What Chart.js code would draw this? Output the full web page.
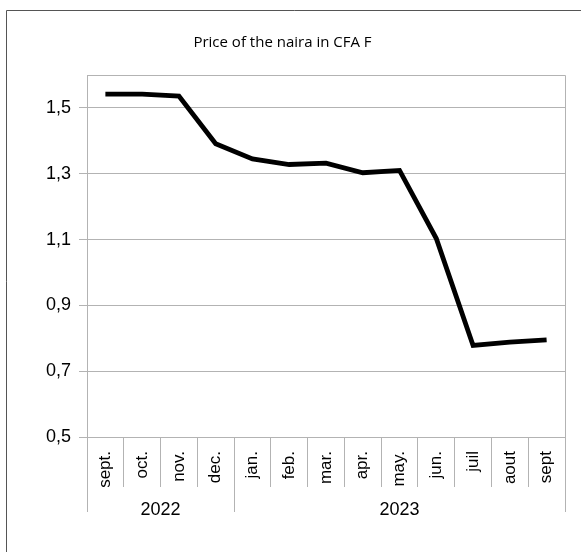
<!DOCTYPE html>
<html><head><meta charset="utf-8">
<script src="https://cdn.jsdelivr.net/npm/chart.js@4/dist/chart.umd.min.js"></script>
<style>html,body{margin:0;padding:0;background:#fff;}</style>
</head><body>
<canvas id="c" width="581" height="552"></canvas>
<script>
const titleText = 'Price of the naira in CFA F';
const months = ['sept.','oct.','nov.','dec.','jan.','feb.','mar.','apr.','may.','jun.','juil','aout','sept'];
const prices = [1.542,1.542,1.536,1.391,1.345,1.328,1.332,1.303,1.310,1.103,0.778,0.788,0.795];
const years = ['2022','2023'];
const yearMonthCounts = [4,9];
const yTicks = [0.5,0.7,0.9,1.1,1.3,1.5];
const yMin = 0.5, yMax = 1.6;

const GRID = '#b3b3b3';
const FONT = 'Liberation Sans, Arial, sans-serif';
const TICK_SIZE = 18;
const MONTH_SIZE = 17;

// year group boundaries / centres in category-index units
const yearBounds = [-0.5];
const yearCentres = [];
{ let s = 0; yearMonthCounts.forEach(n => { yearCentres.push(s + (n - 1) / 2); s += n; yearBounds.push(s - 0.5); }); }

const framePlugin = {
  id: 'frame',
  beforeDraw(chart) {
    const ctx = chart.ctx;
    ctx.save();
    ctx.strokeStyle = '#555';
    ctx.lineWidth = 1;
    ctx.beginPath();
    ctx.moveTo(6.5, chart.height + 5);
    ctx.lineTo(6.5, 10.5);
    ctx.lineTo(chart.width + 5, 10.5);
    ctx.stroke();
    ctx.restore();
  },
  afterDatasetsDraw(chart) {
    const a = chart.chartArea, ctx = chart.ctx;
    ctx.save();
    ctx.strokeStyle = GRID;
    ctx.lineWidth = 1;
    ctx.beginPath();
    ctx.moveTo(Math.round(a.left) + 0.5, Math.round(a.top) + 0.5);
    ctx.lineTo(Math.round(a.right) + 0.5, Math.round(a.top) + 0.5);
    ctx.lineTo(Math.round(a.right) + 0.5, Math.round(a.bottom) + 0.5);
    ctx.stroke();
    ctx.restore();
  }
};

new Chart(document.getElementById('c'), {
  type: 'line',
  data: {
    labels: months,
    datasets: [{
      data: prices,
      borderColor: '#000',
      borderWidth: 4.8,
      pointRadius: 0,
      tension: 0,
      fill: false,
      borderJoinStyle: 'miter',
      clip: false
    }]
  },
  options: {
    responsive: false,
    animation: false,
    devicePixelRatio: 1,
    layout: { padding: { left: 0, right: 16, top: 0, bottom: 35 } },
    plugins: {
      legend: { display: false },
      tooltip: { enabled: false },
      title: {
        display: true,
        text: titleText,
        color: '#000',
        font: { family: 'Open Sans, sans-serif', size: 15, weight: 'normal', lineHeight: 1.2 },
        padding: { top: 33.5, bottom: 23.5 }
      }
    },
    scales: {
      y: {
        min: yMin, max: yMax,
        afterBuildTicks: s => { s.ticks = yTicks.map(v => ({ value: v })); },
        afterFit: s => { s.width = 87; },
        grid: { color: GRID, tickLength: 8 },
        border: { color: GRID },
        ticks: {
          color: '#000',
          font: { family: FONT, size: TICK_SIZE },
          padding: 8,
          callback: v => Number(v).toFixed(1).replace('.', ',')
        }
      },
      x: {
        type: 'category',
        offset: true,
        afterFit: s => { s.height = 50; },
        grid: { offset: true, drawOnChartArea: false, color: GRID, tickLength: 50 },
        border: { color: GRID },
        ticks: {
          color: '#000',
          font: { family: FONT, size: MONTH_SIZE },
          minRotation: 90, maxRotation: 90,
          autoSkip: false,
          padding: -36
        }
      },
      x2: {
        type: 'linear',
        position: 'bottom',
        weight: 1,
        min: -0.5, max: months.length - 0.5,
        afterBuildTicks: s => {
          const t = [];
          yearBounds.forEach((b, i) => {
            t.push({ value: b });
            if (i < yearCentres.length) t.push({ value: yearCentres[i] });
          });
          s.ticks = t;
        },
        afterFit: s => { s.height = 30; },
        grid: {
          drawOnChartArea: false,
          tickLength: 25,
          color: c => (c.tick && yearBounds.includes(c.tick.value)) ? GRID : 'rgba(0,0,0,0)'
        },
        border: { display: false },
        ticks: {
          color: '#000',
          font: { family: FONT, size: TICK_SIZE },
          maxRotation: 0,
          autoSkip: false,
          padding: -13,
          callback: v => { const i = yearCentres.indexOf(v); return i >= 0 ? years[i] : ''; }
        }
      }
    }
  },
  plugins: [framePlugin]
});
</script>
</body></html>
